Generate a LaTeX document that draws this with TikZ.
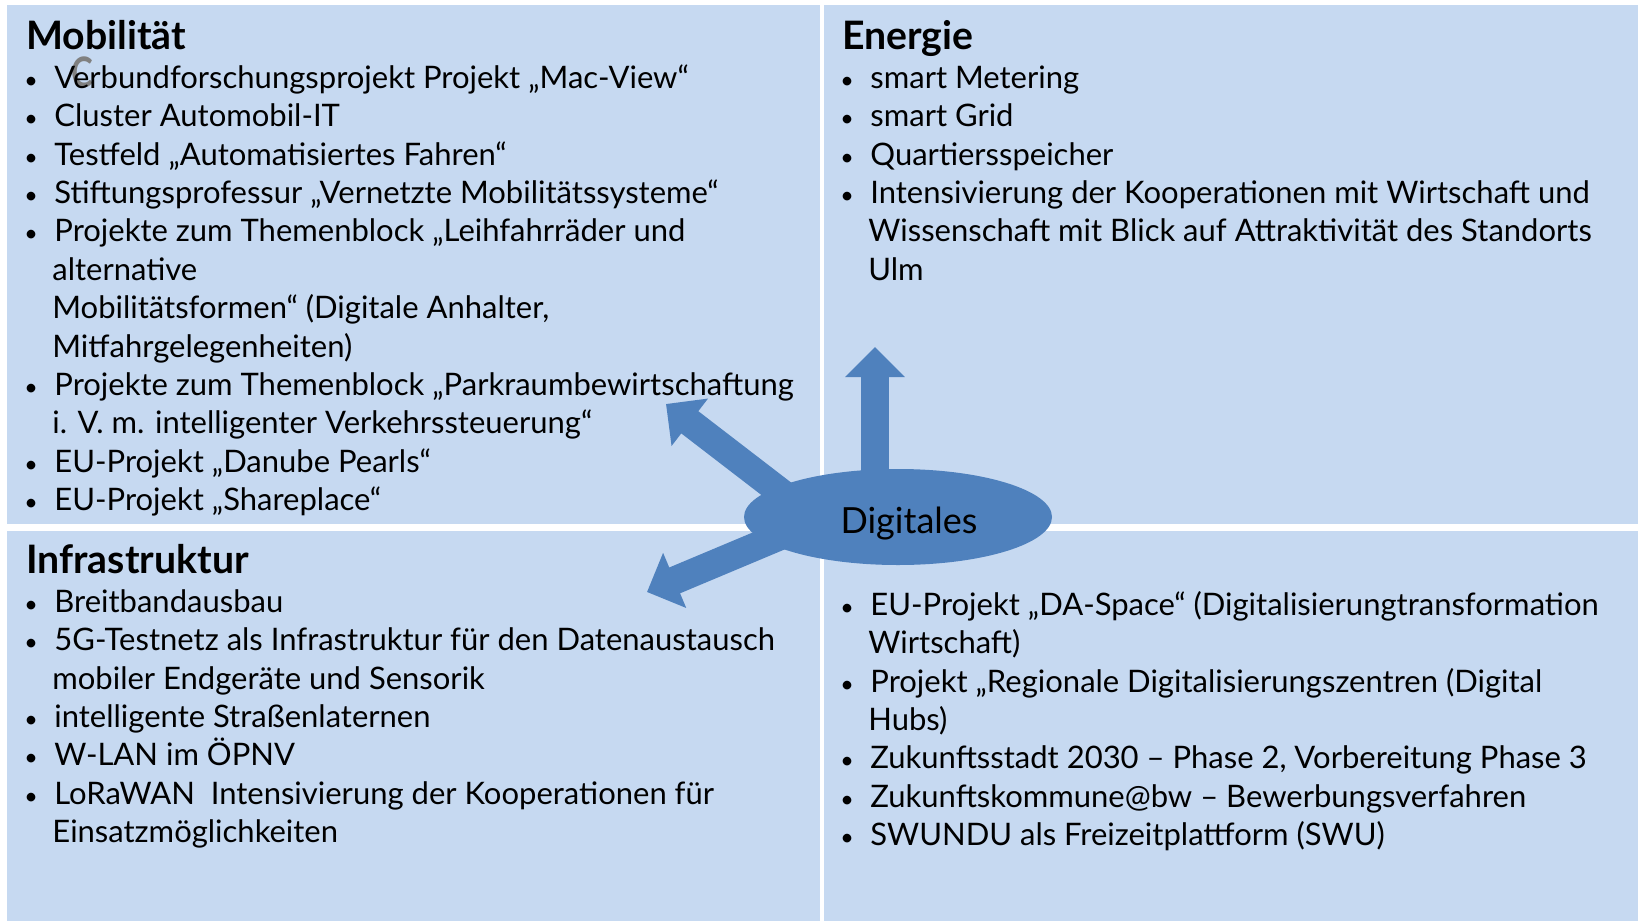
\documentclass[tikz,border=0pt]{standalone}
\usepackage{fontspec}
\setmainfont{Lato}
\usetikzlibrary{arrows.meta,positioning,calc,backgrounds,shapes.geometric}
\definecolor{PanelBlue}{HTML}{C6D9F1}
\definecolor{DigiBlue}{HTML}{4F81BD}
\newcommand{\bul}{\makebox[15pt][l]{\scalebox{0.75}{\textbullet}}}
\newcommand{\ind}{\hspace*{14pt}}

\begin{document}
\begin{tikzpicture}[x=0.5pt,y=-0.5pt,
  panel/.style={fill=PanelBlue},
  head/.style={anchor=base west,inner sep=0,font=\fontsize{19.6pt}{22pt}\selectfont\bfseries},
  list/.style={anchor=north west,inner sep=0,align=left,font=\fontsize{15.5pt}{19.2pt}\selectfont},
  blockarrow/.style={DigiBlue,line width=14pt,-{Triangle[length=15pt,width=29pt]}}]
  \useasboundingbox (0,0) rectangle (1638,921);

  % headings
  \node[head] (mob) at (26,49) {Mobilität};
  \node[head] (ene) at (842,49) {Energie};
  \node[head] (inf) at (26,573) {Infrastruktur};
  \node[anchor=base,inner sep=0,text=black!50,font=\fontsize{21pt}{22pt}\selectfont\bfseries] (cmark) at (82,87) {\scalebox{0.78}[1]{C}};

  % lists
  \node[list] (mobL) at (24,61) {\strut\bul Verbundforschungsprojekt Projekt „Mac-View“\\
    \bul Cluster Automobil-IT\\
    \bul Testfeld „Automatisiertes Fahren“\\
    \bul Stiftungsprofessur „Vernetzte Mobilitätssysteme“\\
    \bul Projekte zum Themenblock „Leihfahrräder und\\
    \ind alternative\\
    \ind Mobilitätsformen“ (Digitale Anhalter,\\
    \ind Mitfahrgelegenheiten)\\
    \bul Projekte zum Themenblock „Parkraumbewirtschaftung\\
    \ind i. V. m. intelligenter Verkehrssteuerung“\\
    \bul EU-Projekt „Danube Pearls“\\
    \bul EU-Projekt „Shareplace“};
  \node[list] (eneL) at (840,61) {\strut\bul smart Metering\\
    \bul smart Grid\\
    \bul Quartiersspeicher\\
    \bul Intensivierung der Kooperationen mit Wirtschaft und\\
    \ind Wissenschaft mit Blick auf Attraktivität des Standorts\\
    \ind Ulm};
  \node[list] (infL) at (24,585) {\strut\bul Breitbandausbau\\
    \bul 5G-Testnetz als Infrastruktur für den Datenaustausch\\
    \ind mobiler Endgeräte und Sensorik\\
    \bul intelligente Straßenlaternen\\
    \bul W-LAN im ÖPNV\\
    \bul LoRaWAN\ \ Intensivierung der Kooperationen für\\
    \ind Einsatzmöglichkeiten};
  \node[list] (digL) at (840,588) {\strut\bul EU-Projekt „DA-Space“ (Digitalisierungtransformation\\
    \ind Wirtschaft)\\
    \bul Projekt „Regionale Digitalisierungszentren (Digital\\
    \ind Hubs)\\
    \bul Zukunftsstadt 2030 – Phase 2, Vorbereitung Phase 3\\
    \bul Zukunftskommune@bw – Bewerbungsverfahren\\
    \bul SWUNDU als Freizeitplattform (SWU)};

  % centre
  \node[ellipse,fill=DigiBlue,inner sep=0,minimum width=154pt,minimum height=48pt,
    font=\fontsize{18pt}{20pt}\selectfont] (dig) at (898,517)
    {\hspace*{11pt}\raisebox{-8pt}[0pt][0pt]{Digitales}};
  \coordinate (tipE) at (875,347);
  \coordinate (tipM) at (666,404);
  \coordinate (tipI) at (647,592);

  \begin{scope}[on background layer]
    \fill[panel] (7,5) rectangle (820,524);
    \fill[panel] (824,5) rectangle (1638,524);
    \fill[panel] (7,531) rectangle (820,921);
    \fill[panel] (824,531) rectangle (1638,921);
    \draw[blockarrow] (dig.center -| tipE) -- (tipE);
    \draw[blockarrow] ($(dig.center)+(-98,-10)$) -- (tipM);
    \draw[blockarrow] ($(dig.center)+(-108,15)$) -- (tipI);
  \end{scope}
\end{tikzpicture}
\end{document}
